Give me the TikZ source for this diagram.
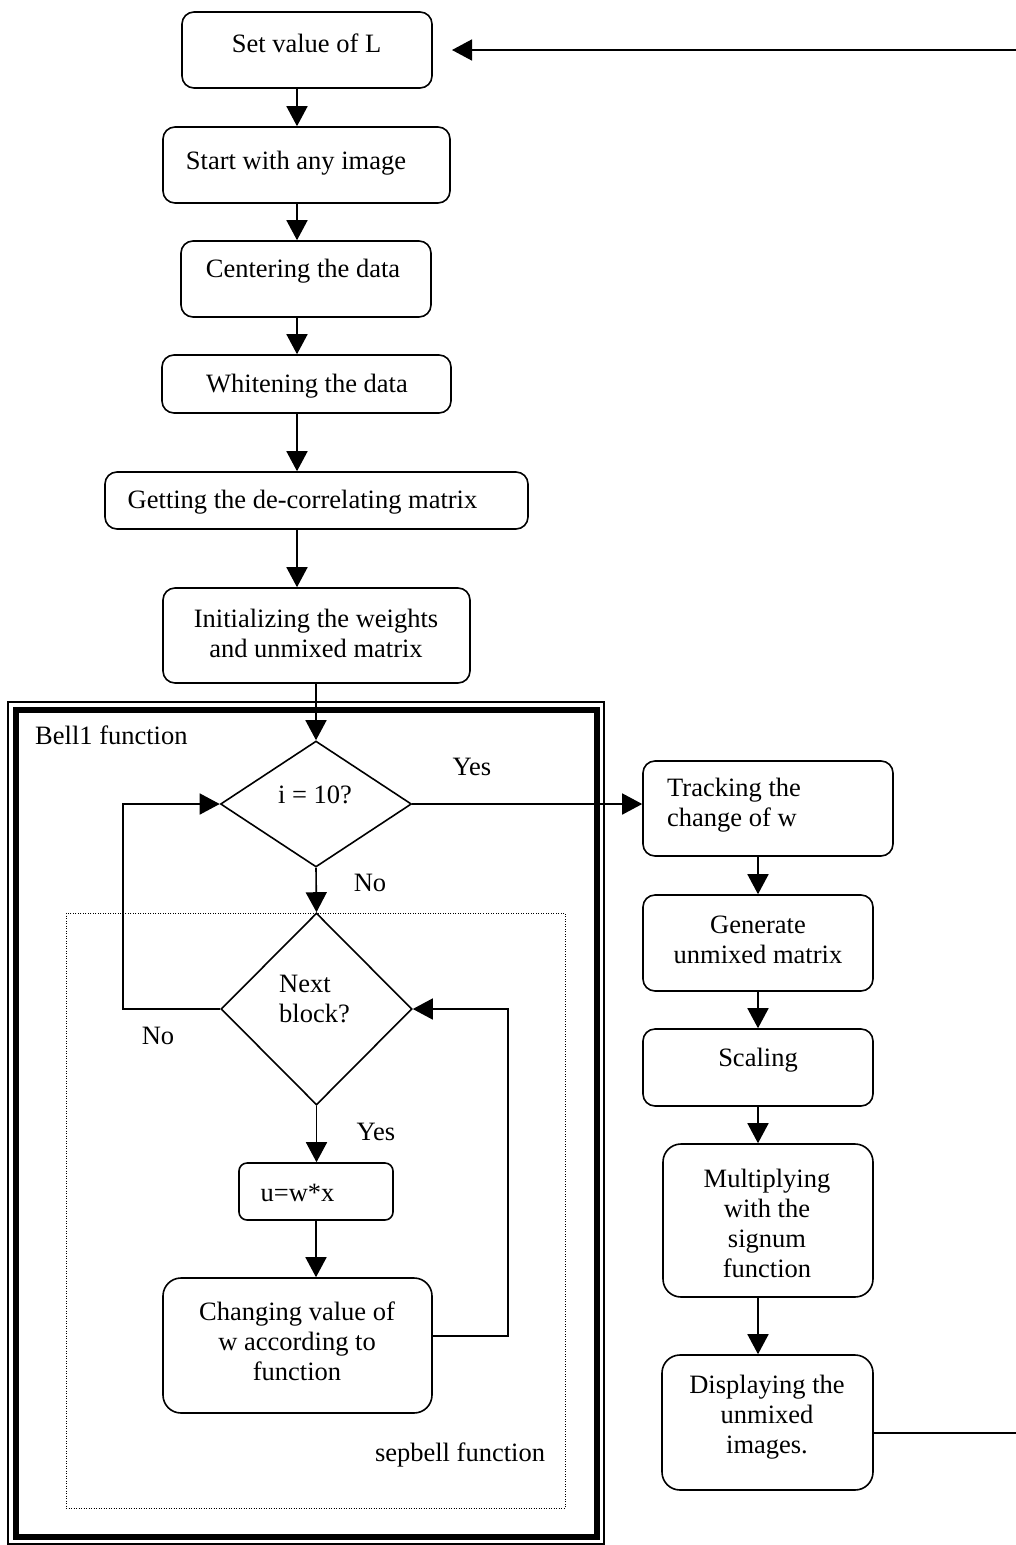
\documentclass[tikz,border=0pt]{standalone}
\usepackage{fontspec}
\setmainfont{Liberation Serif}
\usetikzlibrary{shapes.geometric,arrows.meta,calc}
\begin{document}
\begin{tikzpicture}[x=1pt,y=-1pt,
 box/.style={draw,line width=1.6pt,rounded corners=12pt,inner sep=0pt},
 dia/.style={draw,diamond,line width=1.6pt,inner sep=0pt},
 txt/.style={font=\fontsize{26.5}{30}\selectfont,align=center,inner sep=0pt},
 ltxt/.style={font=\fontsize{26.5}{30}\selectfont,align=left,inner sep=0pt,anchor=west},
 arr/.style={line width=1.6pt,-{Triangle[length=20pt,width=21pt]}},
 ln/.style={line width=1.6pt}]
\useasboundingbox (0,0) rectangle (1016,1545);

% frames
\draw[line width=1.2pt] (8,702) rectangle (604,1544);
\draw[line width=6pt] (16,710) rectangle (597,1537);
\draw[line width=1pt,dash pattern=on 1pt off 1.5pt] (66,913) rectangle (565,1508);

% boxes
\node[box,minimum width=250pt,minimum height=76pt] (setL) at (307,50) {};
\node[box,minimum width=287pt,minimum height=76pt] (start) at (306.5,165) {};
\node[box,minimum width=250pt,minimum height=76pt] (cent) at (306,279) {};
\node[box,minimum width=289pt,minimum height=58pt] (whit) at (306.5,384) {};
\node[box,minimum width=423pt,minimum height=57pt] (get) at (316.5,500.5) {};
\node[box,minimum width=307pt,minimum height=95pt] (init) at (316.5,635.5) {};
\node[dia,minimum width=191pt,minimum height=126pt] (i10) at (316,804) {};
\node[dia,minimum width=191pt,minimum height=192pt] (nb) at (316.5,1009) {};
\node[box,rounded corners=8pt,minimum width=154pt,minimum height=57pt] (uwx) at (316,1191.5) {};
\node[box,rounded corners=18pt,minimum width=269pt,minimum height=135pt] (chg) at (297.5,1345.5) {};
\node[box,minimum width=250pt,minimum height=95pt] (track) at (768,808.5) {};
\node[box,minimum width=230pt,minimum height=96pt] (gen) at (758,943) {};
\node[box,minimum width=230pt,minimum height=77pt] (scal) at (758,1067.5) {};
\node[box,rounded corners=18pt,minimum width=210pt,minimum height=153pt] (mult) at (768,1220.5) {};
\node[box,rounded corners=18pt,minimum width=211pt,minimum height=135pt] (disp) at (767.5,1422.5) {};

% texts
\node[txt] (setLt) at (306.5,43) {Set value of L};
\node[txt] (startt) at (296,163) {Start with any image};
\node[txt] (centt) at (303,271) {Centering the data};
\node[txt] (whitt) at (307,386) {Whitening the data};
\node[txt] (gett) at (302.5,502) {Getting the de-correlating matrix};
\node[txt] (initt) at (316,633) {Initializing the weights\\and unmixed matrix};
\node[txt] (i10t) at (315,795) {i = 10?};
\node[ltxt] (nbt) at (279,999) {Next\\block?};
\node[txt] (uwxt) at (297.5,1193) {u=w*x};
\node[txt] (chgt) at (297,1341) {Changing value of\\w according to\\function};
\node[ltxt] (trackt) at (667,805.5) {Tracking the\\change of w};
\node[txt] (gent) at (758,940) {Generate\\unmixed matrix};
\node[txt] (scalt) at (758,1060) {Scaling};
\node[txt] (multt) at (767,1223) {Multiplying\\with the\\signum\\function};
\node[txt] (dispt) at (767,1417) {Displaying the\\unmixed\\images.};

% labels
\node[txt] (yes1) at (472,767) {Yes};
\node[txt] (no1) at (370,883) {No};
\node[txt] (no2) at (158,1036) {No};
\node[txt] (yes2) at (376,1132) {Yes};
\node[ltxt] (bell) at (35,735) {Bell1 function};
\node[txt] (sep) at (460,1455) {sepbell function};

% connectors
\coordinate (c297) at (297,0);
\coordinate (c758) at (758,0);
\draw[arr] (setL.south -| c297) -- (start.north -| c297);
\draw[arr] (start.south -| c297) -- (cent.north -| c297);
\draw[arr] (cent.south -| c297) -- (whit.north -| c297);
\draw[arr] (whit.south -| c297) -- (get.north -| c297);
\draw[arr] (get.south -| c297) -- (init.north -| c297);
\draw[arr] (init.south -| i10.north) -- (i10.north);
\draw[arr] (i10.east) -- (i10.east -| track.west);
\draw[arr] (i10.south) -- (nb.north);
\coordinate (loopL) at (123,0);
\draw[arr] (nb.west) -- (nb.west -| loopL) |- (i10.west);
\draw[arr] (nb.south) -- (uwx.north -| nb.south);
\draw[arr] (uwx.south) -- (uwx.south |- chg.north);
\coordinate (loopR) at (508,1336);
\draw[arr] (loopR -| chg.east) -- (loopR) |- (nb.east);
\draw[arr] (track.south -| c758) -- (gen.north -| c758);
\draw[arr] (gen.south -| c758) -- (scal.north -| c758);
\draw[arr] (scal.south -| c758) -- (mult.north -| c758);
\draw[arr] (mult.south -| c758) -- (disp.north -| c758);
\coordinate (exitR) at (1016,1433);
\draw[ln] (exitR -| disp.east) -- (exitR);
\coordinate (topR) at (1016,50);
\coordinate (topTip) at (452,50);
\draw[arr] (topR) -- (topTip);
\end{tikzpicture}
\end{document}
